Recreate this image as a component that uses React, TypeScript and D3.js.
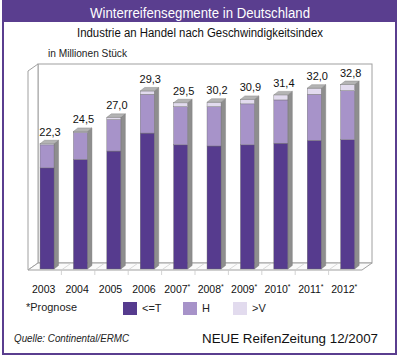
import React from 'react';
import * as d3 from 'd3';

const years = ['2003', '2004', '2005', '2006', '2007', '2008', '2009', '2010', '2011', '2012'];
const forecast = [false, false, false, false, true, true, true, true, true, true];
const totals = [22.3, 24.5, 27.0, 29.3, 29.5, 30.2, 30.9, 31.4, 32.0, 32.8];
const segT = [18.0, 19.5, 21.0, 24.2, 22.1, 21.9, 22.1, 22.4, 22.9, 23.0];
const segH = [4.1, 4.8, 5.6, 6.9, 6.8, 7.0, 7.3, 7.7, 8.2, 8.75];
const segV = [0.2, 0.2, 0.4, 0.6, 0.7, 0.8, 0.8, 0.9, 1.1, 1.1];
const seriesKeys = ['T', 'H', 'V'];
const seriesLabels = ['<=T', 'H', '>V'];
const seriesColors = ['#563b8e', '#a793c9', '#e2dbee'];

const PURPLE = '#5a3e8f';
const FONT = '"Liberation Sans", Arial, sans-serif';

export default function App() {
  const W = 400, H = 357;
  const x = d3.scaleBand<string>().domain(years).range([28, 362]).padding(0);
  const y = d3.scaleLinear().domain([0, 36.5]).range([269, 64]);
  const depthX = 10, depthY = 7;
  const floorY = 270;
  const x0 = x.range()[0], x1 = x.range()[1];
  const topY = y.range()[1];

  const table = years.map((yr, i) => ({ year: yr, T: segT[i], H: segH[i], V: segV[i] }));
  const stack = d3.stack<any>().keys(seriesKeys)(table);

  const bw = x.bandwidth();
  const barOff = bw * 0.36, barW = bw * 0.42;
  const bdx = 4.5, bdy = 3.5;

  const fmt = (v: number) => v.toFixed(1).replace('.', ',');

  return (
    <svg width={W} height={H} style={{ position: 'absolute', left: 0, top: 0, background: '#fff' }} fontFamily={FONT}>
      {/* frame and title bar */}
      <rect x={3} y={1} width={393} height={353} fill="#fff" stroke={PURPLE} strokeWidth={2} />
      <rect x={2} y={0} width={395} height={22} fill={PURPLE} />
      <text x={200} y={18} textAnchor="middle" fill="#fff" fontSize={14} textLength={220} lengthAdjust="spacingAndGlyphs">Winterreifensegmente in Deutschland</text>
      <text x={200} y={37} textAnchor="middle" fill="#111" fontSize={12.5} textLength={246} lengthAdjust="spacingAndGlyphs">Industrie an Handel nach Geschwindigkeitsindex</text>
      <text x={48} y={57} fill="#222" fontSize={10.5} textLength={79} lengthAdjust="spacingAndGlyphs">in Millionen Stück</text>

      {/* 3D box: back wall, left side, floor */}
      <rect x={x0 + depthX} y={topY} width={x1 - x0} height={floorY - depthY - topY} fill="#fff" stroke="#a0a0a0" strokeWidth={1} />
      <polygon points={`${x0},${topY + depthY} ${x0 + depthX},${topY} ${x0 + depthX},${floorY - depthY} ${x0},${floorY}`} fill="#fff" stroke="#a0a0a0" strokeWidth={1} />
      <polygon points={`${x0},${floorY} ${x0 + depthX},${floorY - depthY} ${x1 + depthX},${floorY - depthY} ${x1},${floorY}`} fill="#fbfbfb" stroke="#a0a0a0" strokeWidth={1} />
      {years.slice(1).map((yr) => {
        const xb = x(yr)!;
        return (
          <g key={'g' + yr}>
            <line x1={xb + depthX} y1={floorY - depthY} x2={xb} y2={floorY} stroke="#d0d0d0" strokeWidth={0.8} />
            <line x1={xb} y1={floorY} x2={xb} y2={floorY + 5} stroke="#c8c8c8" strokeWidth={0.8} />
          </g>
        );
      })}

      {/* bars */}
      {years.map((yr, i) => {
        const bx = x(yr)! + barOff;
        const yTop = y(stack[stack.length - 1][i][1]);
        const yBot = y(0);
        return (
          <g key={yr}>
            {/* side face */}
            <polygon points={`${bx + barW},${yBot} ${bx + barW + bdx},${yBot - bdy} ${bx + barW + bdx},${yTop - bdy} ${bx + barW},${yTop}`} fill="#8e8e8e" stroke="#7a7a7a" strokeWidth={0.4} />
            {stack.map((s, k) => (
              <rect key={k} x={bx} y={y(s[i][1])} width={barW} height={y(s[i][0]) - y(s[i][1])} fill={seriesColors[k]} stroke="#6d6d6d" strokeWidth={0.4} />
            ))}
            {/* top face */}
            <polygon points={`${bx},${yTop} ${bx + bdx},${yTop - bdy} ${bx + barW + bdx},${yTop - bdy} ${bx + barW},${yTop}`} fill="#b4b4b4" stroke="#7a7a7a" strokeWidth={0.4} />
            <text x={bx + barW / 2 + 3} y={yTop - 8} textAnchor="middle" fontSize={11} fill="#111">{fmt(totals[i])}</text>
          </g>
        );
      })}

      {/* year labels */}
      {years.map((yr, i) => (
        <text key={'yl' + yr} x={x(yr)! + bw / 2 + (forecast[i] ? -1 : -1)} y={293} textAnchor="middle" fontSize={10.5} fill="#111">
          {yr}
          {forecast[i] ? <tspan fontSize={7} dy={-4}>*</tspan> : null}
        </text>
      ))}

      {/* legend */}
      <text x={26} y={311} fontSize={11} fill="#222" textLength={51} lengthAdjust="spacingAndGlyphs">*Prognose</text>
      {seriesKeys.map((k, j) => {
        const lx = [123, 183, 233][j];
        return (
          <g key={'lg' + k}>
            <rect x={lx} y={302} width={14} height={13} fill={seriesColors[j]} />
            <text x={lx + 19} y={312} fontSize={11} fill="#222">{seriesLabels[j]}</text>
          </g>
        );
      })}

      {/* footer */}
      <text x={14} y={342} fontSize={10.5} fontStyle="italic" fill="#222" textLength={115} lengthAdjust="spacingAndGlyphs">Quelle: Continental/ERMC</text>
      <text x={202} y={343} fontSize={13} fill="#111" textLength={176} lengthAdjust="spacingAndGlyphs">NEUE ReifenZeitung 12/2007</text>
    </svg>
  );
}
